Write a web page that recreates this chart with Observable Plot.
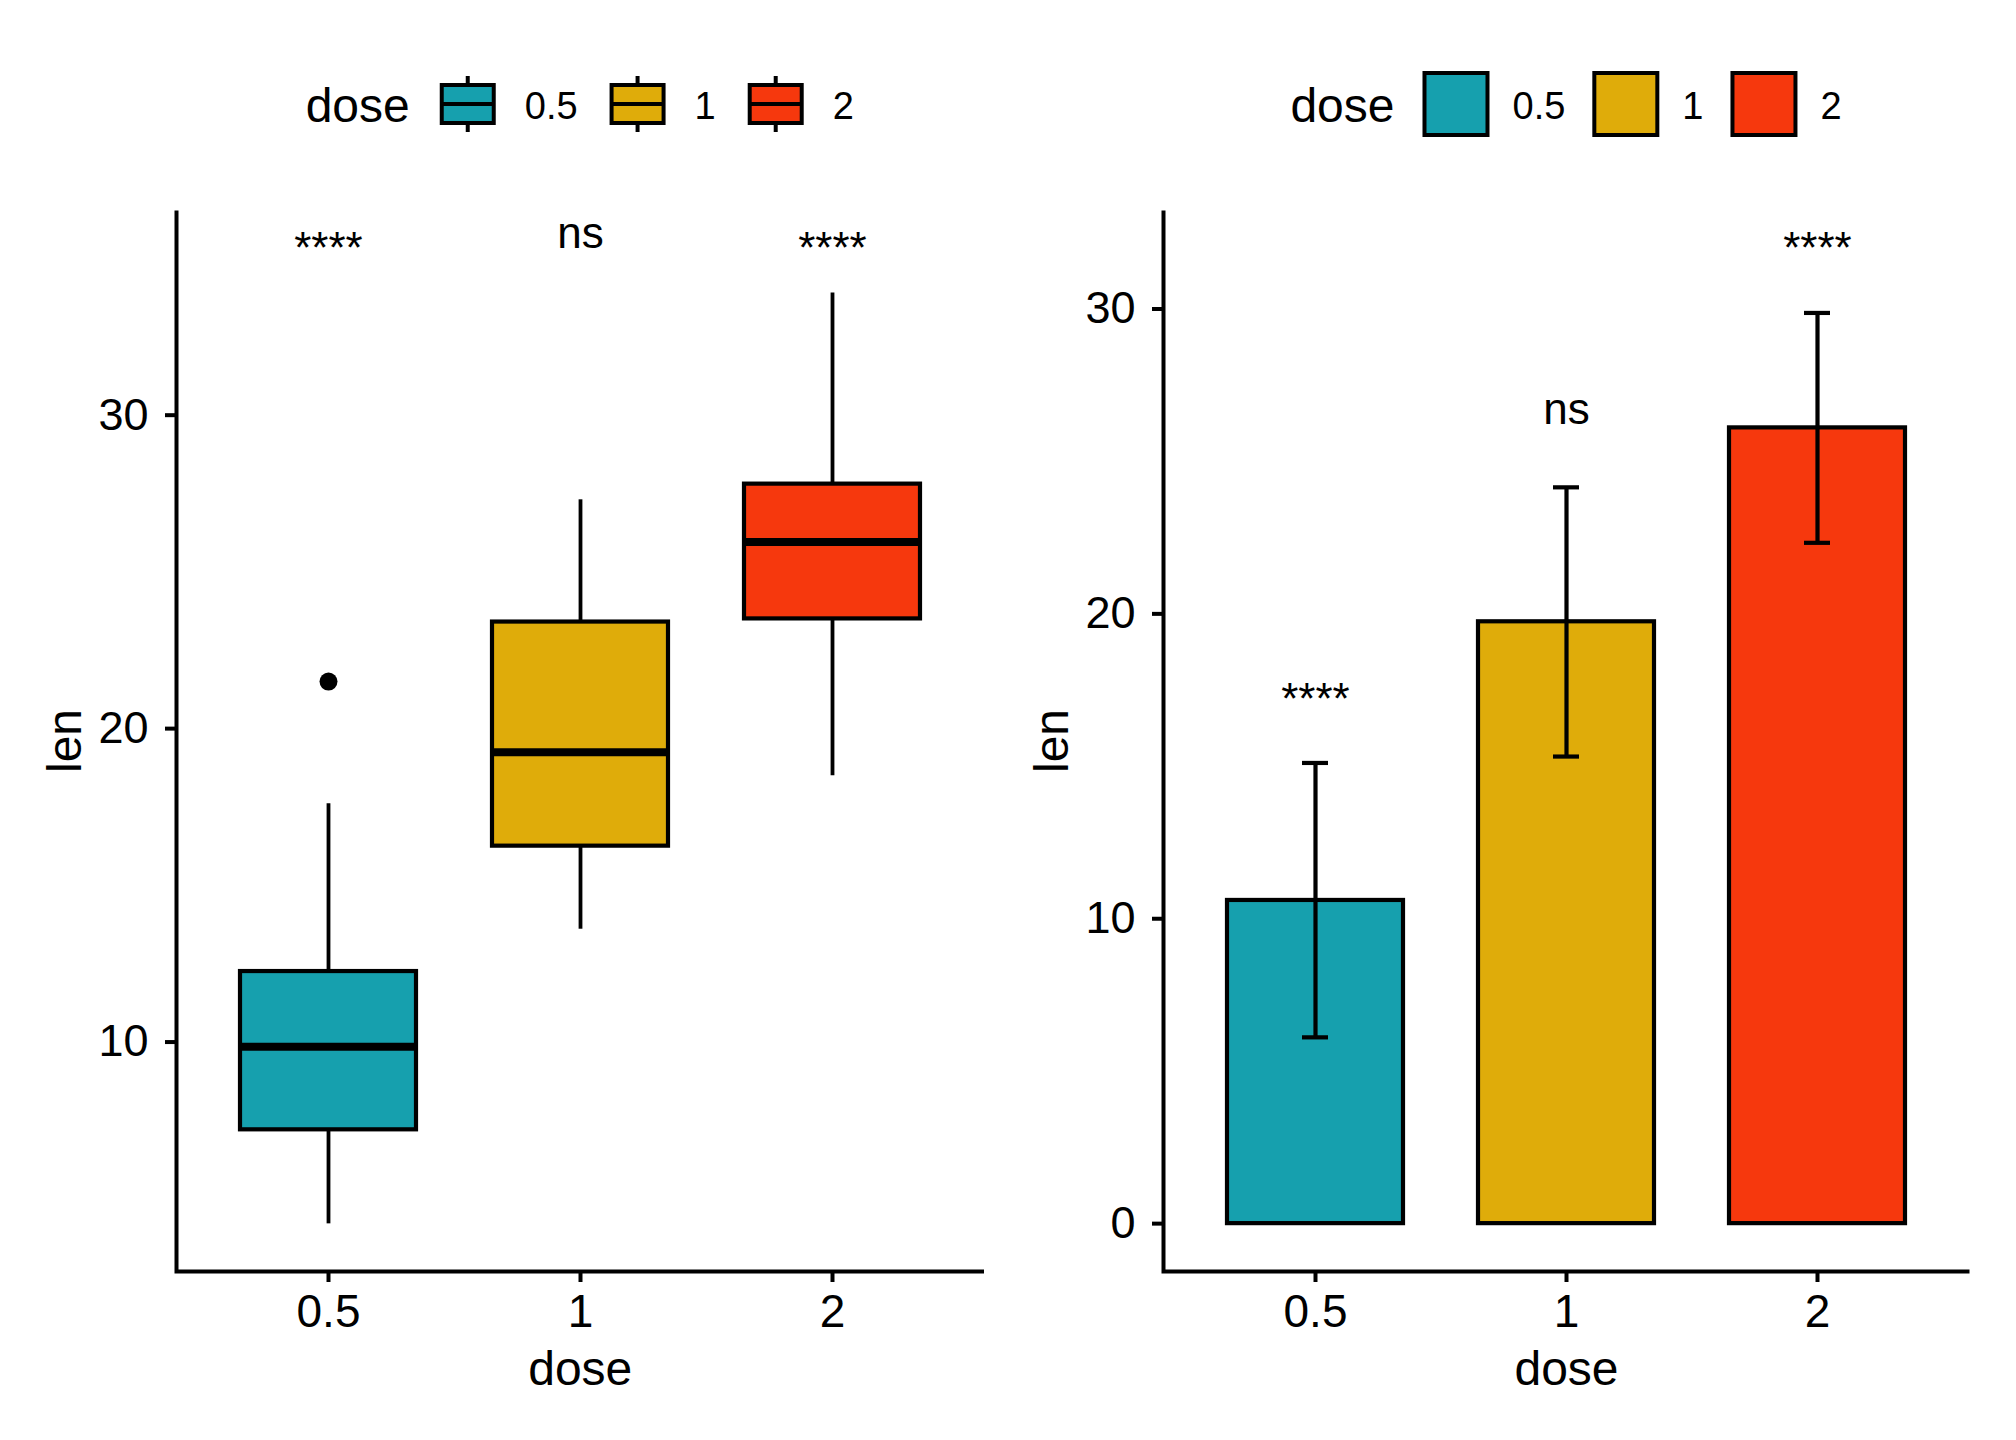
<!DOCTYPE html>
<html>
<head>
<meta charset="utf-8">
<script src="https://cdn.jsdelivr.net/npm/d3@7"></script>
<script src="https://cdn.jsdelivr.net/npm/@observablehq/plot@0.6"></script>
<style>
  html, body { margin: 0; padding: 0; background: #ffffff; }
  body { font-family: "Liberation Sans", Arial, Helvetica, sans-serif; }
  #wrap { width: 2016px; height: 1440px; display: flex; flex-direction: row; }
  .panel { width: 1008px; height: 1440px; display: flex; flex-direction: column; }
  .panel svg { display: block; }
</style>
</head>
<body>
<div id="wrap">
  <div class="panel" id="left"></div>
  <div class="panel" id="right"></div>
</div>
<script>
// ---------------- data ----------------
const doseLevels = ["0.5", "1", "2"];
const doseColors = ["#16A0AE", "#DFAC0A", "#F6380D"];

// left panel: box plot summary of len by dose
const lenMin = [4.2, 13.6, 18.5];
const lenQ1 = [7.2, 16.25, 23.5];
const lenMedian = [9.85, 19.25, 25.95];
const lenQ3 = [12.25, 23.4, 27.8];
const lenMax = [17.6, 27.3, 33.9];
const outlierDose = ["0.5"];
const outlierLen = [21.5];
const boxSigLabels = ["****", "ns", "****"];
const boxSigY = [34.87, 35.32, 34.87];
const boxYTicks = [10, 20, 30];
const boxYDomain = [2.68, 36.53];

// right panel: mean ± sd bars
const barMean = [10.6, 19.74, 26.1];
const barLow = [6.11, 15.32, 22.33];
const barHigh = [15.11, 24.15, 29.87];
const barSigLabels = ["****", "ns", "****"];
const barSigY = [16.72, 26.24, 31.5];
const barYTicks = [0, 10, 20, 30];
const barYDomain = [-1.57, 33.23];

// ---------------- shared settings ----------------
const FONT = '"Liberation Sans", Arial, Helvetica, sans-serif';
const W = 1008, H = 1270;
const LEG_H = 170;

const boxData = doseLevels.map((d, i) => ({
  dose: d, min: lenMin[i], q1: lenQ1[i], median: lenMedian[i], q3: lenQ3[i], max: lenMax[i]
}));
const outliers = outlierDose.map((d, i) => ({dose: d, len: outlierLen[i]}));
const boxSig = doseLevels.map((d, i) => ({dose: d, y: boxSigY[i], label: boxSigLabels[i]}));
const barData = doseLevels.map((d, i) => ({dose: d, mean: barMean[i], lo: barLow[i], hi: barHigh[i]}));
const barSig = doseLevels.map((d, i) => ({dose: d, y: barSigY[i], label: barSigLabels[i]}));

function axisLines(m) {
  const w = W - m.left - m.right, h = H - m.top - m.bottom;
  return Plot.frame({stroke: "black", strokeWidth: 4, strokeDasharray: `0 ${w + h} ${w + h}`});
}

function commonMarks(m) {
  return [
    axisLines(m),
    Plot.axisX({tickSize: 11, tickPadding: 12, fontSize: 46, strokeWidth: 4, label: null}),
    Plot.text(["dose"], {frameAnchor: "bottom", textAnchor: "middle", lineAnchor: "bottom", dy: 113, fontSize: 48}),
    Plot.text(["len"], {frameAnchor: "left", textAnchor: "middle", lineAnchor: "bottom", rotate: -90, dx: -96, fontSize: 48})
  ];
}

// ---------------- left: box plot ----------------
const mL = {left: 176, right: 24.5, top: 40, bottom: 169};
const leftPlot = Plot.plot({
  width: W, height: H,
  marginLeft: mL.left, marginRight: mL.right, marginTop: mL.top, marginBottom: mL.bottom,
  style: {fontFamily: FONT, color: "black", background: "white", overflow: "visible"},
  x: {type: "band", domain: doseLevels, paddingInner: 0.3, paddingOuter: 0.25, label: null},
  y: {domain: boxYDomain, label: null},
  color: {domain: doseLevels, range: doseColors},
  marks: [
    Plot.ruleX(boxData, {x: "dose", y1: "min", y2: "q1", stroke: "black", strokeWidth: 3.8}),
    Plot.ruleX(boxData, {x: "dose", y1: "q3", y2: "max", stroke: "black", strokeWidth: 3.8}),
    Plot.barY(boxData, {x: "dose", y1: "q1", y2: "q3", fill: "dose", stroke: "black", strokeWidth: 4.2}),
    Plot.tickY(boxData, {x: "dose", y: "median", stroke: "black", strokeWidth: 8}),
    Plot.dot(outliers, {x: "dose", y: "len", r: 9, fill: "black", stroke: "none"}),
    Plot.text(boxSig, {x: "dose", y: "y", text: "label", lineAnchor: "bottom", fontSize: 44}),
    Plot.axisY({ticks: boxYTicks, tickSize: 11, tickPadding: 17, fontSize: 45, strokeWidth: 4, label: null}),
    ...commonMarks(mL)
  ]
});

// ---------------- right: bar plot ----------------
const mR = {left: 155, right: 47, top: 40, bottom: 169};
const rightPlot = Plot.plot({
  width: W, height: H,
  marginLeft: mR.left, marginRight: mR.right, marginTop: mR.top, marginBottom: mR.bottom,
  style: {fontFamily: FONT, color: "black", background: "white", overflow: "visible"},
  x: {type: "band", domain: doseLevels, paddingInner: 0.3, paddingOuter: 0.25, label: null},
  y: {domain: barYDomain, label: null},
  color: {domain: doseLevels, range: doseColors},
  marks: [
    Plot.barY(barData, {x: "dose", y1: 0, y2: "mean", fill: "dose", stroke: "black", strokeWidth: 4.2}),
    Plot.ruleX(barData, {x: "dose", y1: "lo", y2: "hi", stroke: "black", strokeWidth: 4.2}),
    Plot.tickY(barData, {x: "dose", y: "lo", stroke: "black", strokeWidth: 4.2, insetLeft: 75, insetRight: 75}),
    Plot.tickY(barData, {x: "dose", y: "hi", stroke: "black", strokeWidth: 4.2, insetLeft: 75, insetRight: 75}),
    Plot.text(barSig, {x: "dose", y: "y", text: "label", lineAnchor: "bottom", fontSize: 44}),
    Plot.axisY({ticks: barYTicks, tickSize: 11, tickPadding: 17, fontSize: 45, strokeWidth: 4, label: null}),
    ...commonMarks(mR)
  ]
});

// ---------------- legends ----------------
function drawLegend(container, o) {
  const svg = d3.select(container).append("svg")
    .attr("width", W).attr("height", LEG_H)
    .style("font-family", FONT);
  const g = svg.append("g");
  const cy = o.cy;
  let x = 0;
  const t = g.append("text").text("dose").attr("x", 0).attr("y", cy + 18)
    .attr("font-size", 48).attr("fill", "black");
  x += t.node().getComputedTextLength() + o.gapTitle;
  doseLevels.forEach((d, i) => {
    const kx = x, ky = cy - o.keyH / 2;
    if (o.box) {
      g.append("line").attr("x1", kx + o.keyW / 2).attr("x2", kx + o.keyW / 2)
        .attr("y1", cy - o.keyH / 2 - o.whisk).attr("y2", cy + o.keyH / 2 + o.whisk)
        .attr("stroke", "black").attr("stroke-width", 4);
    }
    g.append("rect").attr("x", kx).attr("y", ky).attr("width", o.keyW).attr("height", o.keyH)
      .attr("fill", doseColors[i]).attr("stroke", "black").attr("stroke-width", 4);
    if (o.box) {
      g.append("line").attr("x1", kx).attr("x2", kx + o.keyW).attr("y1", cy).attr("y2", cy)
        .attr("stroke", "black").attr("stroke-width", 4);
    }
    x += o.keyW + o.gapKeyLabel;
    const lt = g.append("text").text(d).attr("x", x).attr("y", cy + 15)
      .attr("font-size", 38).attr("fill", "black");
    x += lt.node().getComputedTextLength();
    if (i < doseLevels.length - 1) x += o.gapLabelKey;
  });
  g.attr("transform", `translate(${o.centerX - x / 2},0)`);
}

const leftEl = document.getElementById("left");
const rightEl = document.getElementById("right");

drawLegend(leftEl, {box: true, cy: 104, keyW: 52, keyH: 38, whisk: 9, gapTitle: 32, gapKeyLabel: 31, gapLabelKey: 34,
  centerX: mL.left + (W - mL.left - mL.right) / 2});
leftEl.appendChild(leftPlot);

drawLegend(rightEl, {box: false, cy: 104, keyW: 63, keyH: 62, whisk: 0, gapTitle: 30, gapKeyLabel: 25, gapLabelKey: 29,
  centerX: mR.left + (W - mR.left - mR.right) / 2});
rightEl.appendChild(rightPlot);
</script>
</body>
</html>
